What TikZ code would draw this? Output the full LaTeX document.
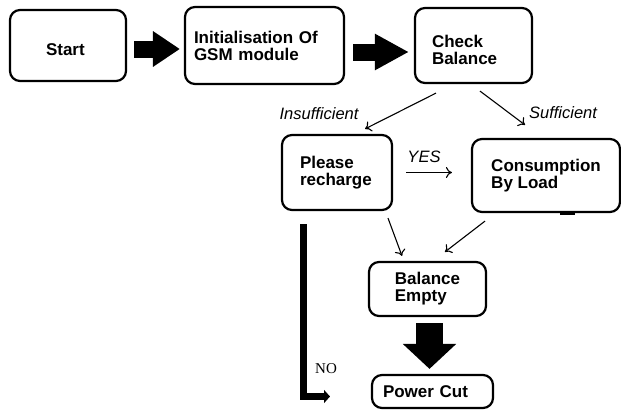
\documentclass[tikz,border=0pt]{standalone}
\usepackage{fontspec}
\usepackage{tikz}
\usetikzlibrary{arrows.meta}
\setmainfont{Liberation Sans}
\newfontfamily\serifno{Liberation Serif}
\tikzset{
  box/.style={draw, line width=2.2pt, rounded corners=10pt, align=left, font=\fontsize{17}{17}\selectfont\bfseries},
  thinarrow/.style={line width=1.1pt, -{To[length=6pt,width=11pt]}},
  bigarrow/.style={line width=17pt, -{Triangle[length=27pt,width=34pt]}},
  lbl/.style={font=\fontsize{16.5}{17}\selectfont\itshape}
}

\begin{document}
\begin{tikzpicture}[x=1pt,y=-1pt]
\useasboundingbox (0,0) rectangle (621,410);
\node[box, minimum width=116pt, minimum height=71pt, text width=44pt] (start) at (68,45.5) {\rule{0pt}{21pt}Start};
\node[box, minimum width=159pt, minimum height=77pt, text width=141pt] (init) at (264.5,45.5) {Initialisation Of\\GSM module};
\node[box, minimum width=117pt, minimum height=75pt, text width=83pt] (check) at (473.5,45.5) {\rule{0pt}{21pt}Check\\Balance};
\node[box, minimum width=110pt, minimum height=75pt, text width=74pt] (please) at (337,172.5) {Please\\recharge};
\node[box, minimum width=148pt, minimum height=73pt] (consumption) at (546,175.5) {Consumption\\By Load};
\node[box, minimum width=117pt, minimum height=54pt] (balance) at (427.5,289) {Balance\\Empty};
\node[box, minimum width=121pt, minimum height=33pt, text width=99pt] (powercut) at (432.5,391.5) {Power Cut};

\draw[bigarrow] ([xshift=7pt,yshift=-3.5pt]start.east) -- ([xshift=-4pt,yshift=-3.5pt]init.west);
\draw[bigarrow, -{Triangle[length=34pt,width=34pt]}] ([xshift=8pt,yshift=-6.5pt]init.east) -- ([xshift=-5pt,yshift=-6.5pt]check.west);
\draw[bigarrow, line width=27pt, -{Triangle[length=25pt,width=52pt]}] ([xshift=2pt,yshift=-6pt]balance.south) -- ([xshift=-3pt,yshift=5pt]powercut.north);

\draw[thinarrow] ([xshift=-37.5pt,yshift=-9pt]check.south) -- ([xshift=28pt,yshift=5pt]please.north);
\draw[thinarrow] ([xshift=6.5pt,yshift=-7pt]check.south) -- ([xshift=-21pt,yshift=13pt]consumption.north);
\draw[thinarrow, shorten <=13pt, shorten >=19pt] (please.east) -- (please.east -| consumption.west);
\draw[thinarrow] ([xshift=51pt,yshift=-7pt]please.south) -- ([xshift=-25.5pt,yshift=5pt]balance.north);
\draw[thinarrow] ([xshift=-61pt,yshift=-8pt]consumption.south) -- ([xshift=17.5pt,yshift=9pt]balance.north);

\coordinate (noend) at (330,396.5);
\draw[line width=7pt, line join=miter, -{Triangle[length=6pt,width=13pt]}] ([xshift=-33.5pt,yshift=-13pt]please.south) |- (noend);
\fill ([xshift=14pt,yshift=1pt]consumption.south) rectangle ++(15,3);

\node[lbl] (insuff) at (319,114) {Insufficient};
\node[lbl] (suff) at (563,113) {Sufficient};
\node[lbl] (yes) at (424,157) {YES};
\node[font=\serifno\fontsize{15}{17}\selectfont] (no) at (326,369) {NO};
\end{tikzpicture}
\end{document}
